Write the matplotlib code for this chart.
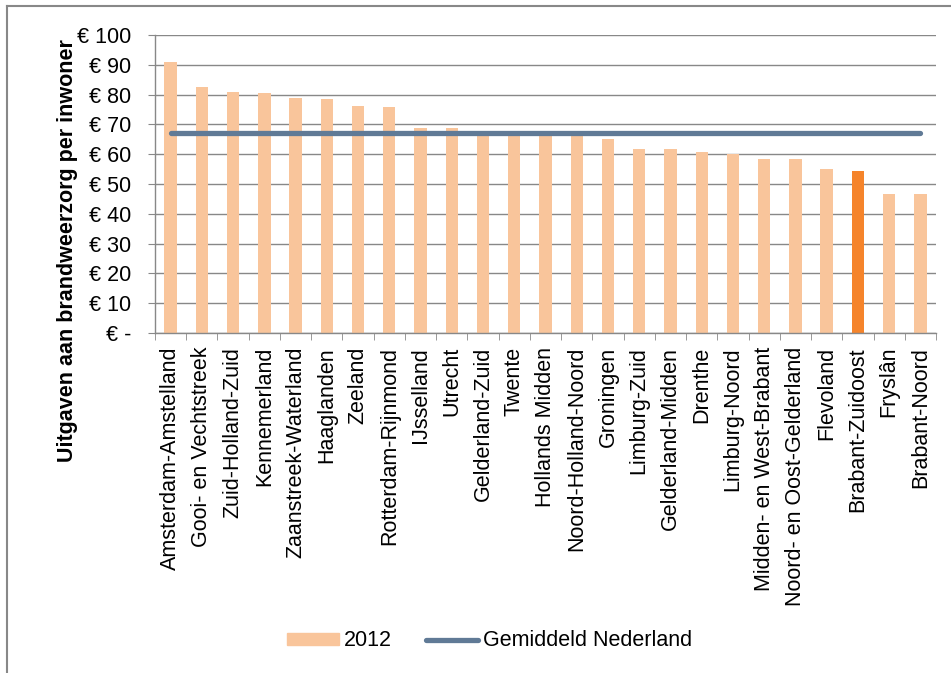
import matplotlib
matplotlib.use('Agg')
import matplotlib.pyplot as plt
from matplotlib.lines import Line2D
import numpy as np

plt.rcParams['font.family'] = ['Liberation Sans', 'DejaVu Sans']

regios = ['Amsterdam-Amstelland', 'Gooi- en Vechtstreek', 'Zuid-Holland-Zuid',
          'Kennemerland', 'Zaanstreek-Waterland', 'Haaglanden', 'Zeeland',
          'Rotterdam-Rijnmond', 'IJsselland', 'Utrecht', 'Gelderland-Zuid',
          'Twente', 'Hollands Midden', 'Noord-Holland-Noord', 'Groningen',
          'Limburg-Zuid', 'Gelderland-Midden', 'Drenthe', 'Limburg-Noord',
          'Midden- en West-Brabant', 'Noord- en Oost-Gelderland', 'Flevoland',
          'Brabant-Zuidoost', 'Fryslân', 'Brabant-Noord']
uitgaven_2012 = [90.8, 82.5, 81.0, 80.6, 78.9, 78.5, 76.2, 75.9, 68.7, 68.7,
                 66.8, 66.6, 66.5, 66.3, 65.0, 61.6, 61.6, 60.9, 60.1, 58.4,
                 58.3, 54.9, 54.4, 46.8, 46.7]
gemiddeld = 67.0
markeer = 'Brabant-Zuidoost'
yticks = [0, 10, 20, 30, 40, 50, 60, 70, 80, 90, 100]
ytick_labels = ['€ -'] + ['€ %d' % v for v in yticks[1:]]

bar_kleur = '#F9C59B'
accent = '#F5842B'
lijn_kleur = '#607A96'
grijs = '#888888'
fs = 15.5

fig = plt.figure(figsize=(9.51, 6.73), dpi=100)
ax = fig.add_axes([155/951, 1 - 333/673, (936-155)/951, (333-35)/673])

x = np.arange(len(regios))
kleuren = [accent if r == markeer else bar_kleur for r in regios]
bars = ax.bar(x, uitgaven_2012, width=0.395, color=kleuren, zorder=2, label='2012')
lijn, = ax.plot(x, [gemiddeld] * len(x), color=lijn_kleur, lw=3.8,
                solid_capstyle='round', zorder=3, label='Gemiddeld Nederland')

ax.set_xlim(-0.5, len(regios) - 0.5)
ax.set_ylim(0, 100)
ax.set_yticks(yticks)
ax.set_yticklabels(ytick_labels)
ax.yaxis.grid(True, color=grijs, lw=1.0, zorder=1)
ax.set_axisbelow(True)

ax.set_xticks(x)
ax.set_xticklabels(regios, rotation=90, va='top', ha='center')
ax.set_xticks(np.arange(-0.5, len(regios)), minor=True)
ax.tick_params(axis='x', which='major', length=0, pad=10, labelsize=fs)
ax.tick_params(axis='x', which='minor', length=5, color=grijs, direction='out')
ax.tick_params(axis='y', length=5, color=grijs, pad=12, labelsize=fs)

for s in ['top', 'right']:
    ax.spines[s].set_visible(False)
for s in ['left', 'bottom']:
    ax.spines[s].set_color(grijs)
    ax.spines[s].set_linewidth(1.0)

ax.set_ylabel('Uitgaven aan brandweerzorg per inwoner', fontsize=fs,
              fontweight='bold')
ax.yaxis.set_label_coords(-0.099, 0.275)

# legenda onder de grafiek
kleur_patch = plt.Rectangle((0, 0), 1, 1, color=bar_kleur)
fig.legend([kleur_patch, lijn], ['2012', 'Gemiddeld Nederland'], loc='center',
           bbox_to_anchor=(0.515, 1 - 641/673), ncol=2, frameon=False,
           fontsize=fs, handlelength=2.4, handleheight=0.5, handletextpad=0.25,
           columnspacing=1.6)

# rand van de grafiek
fig.add_artist(Line2D([7/951, 1], [1 - 6/673, 1 - 6/673], color=grijs, lw=1.5))
fig.add_artist(Line2D([7/951, 7/951], [0, 1 - 6/673], color=grijs, lw=1.5))

fig.savefig('out.png', dpi=100)
